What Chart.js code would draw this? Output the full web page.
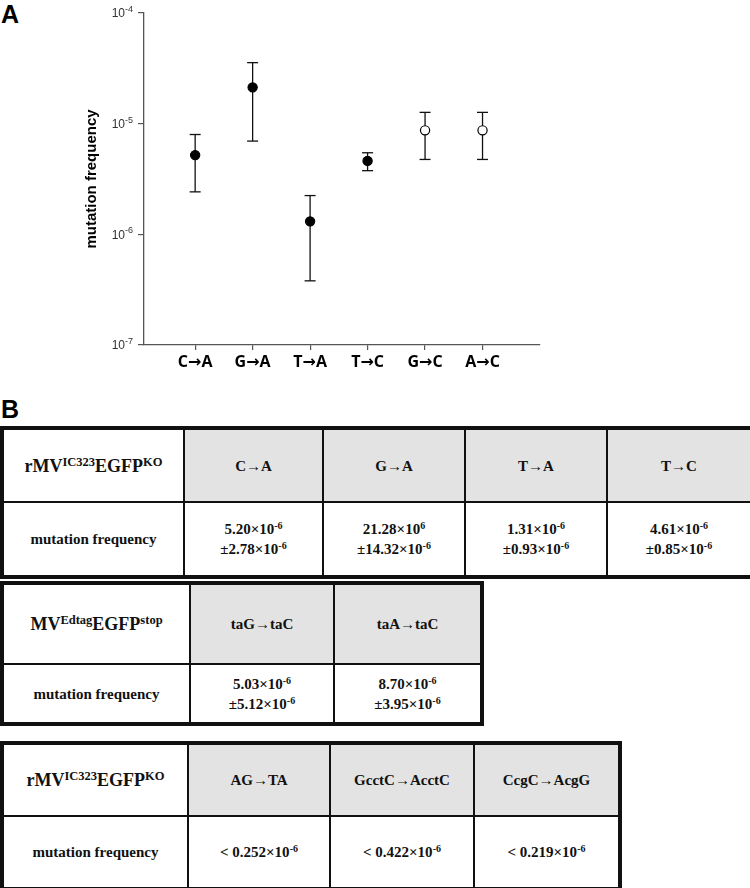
<!DOCTYPE html>
<html>
<head>
<meta charset="utf-8">
<script src="https://cdn.jsdelivr.net/npm/chart.js@4/dist/chart.umd.min.js"></script>
<style>
  html, body { margin:0; padding:0; background:#fff; }
  body { width:750px; height:888px; position:relative; overflow:hidden; }
  .panel { position:absolute; font-family:"Liberation Sans", Arial, sans-serif; font-weight:bold; font-size:25px; line-height:1; color:#000; }
  #chartBox { position:absolute; left:0; top:0; width:560px; height:385px; }
  table.tb { position:absolute; left:0; border-collapse:collapse; table-layout:fixed; border:4px solid #111;
             font-family:"Liberation Serif","Times New Roman",serif; font-weight:bold; font-size:15px; color:#111; }
  table.tb td { border:2px solid #111; text-align:center; vertical-align:middle; padding:0; line-height:20px; }
  table.tb td.g { background:#e3e3e3; }
  table.tb td.name { font-size:18px; }
  table.tb td.name sup { font-size:12.5px; vertical-align:6px; line-height:0; }
  table.tb td sup { font-size:10px; vertical-align:5px; line-height:0; }
</style>
</head>
<body>
<div class="panel" style="left:1px;top:2px;">A</div>
<div class="panel" style="left:1px;top:397px;">B</div>
<div id="chartBox"><canvas id="c"></canvas></div>

<table class="tb" id="t1" style="top:426px;width:750px;height:149px;"></table>
<table class="tb" id="t2" style="top:581px;width:480px;height:141px;"></table>
<table class="tb" id="t3" style="top:741px;width:618px;height:146px;"></table>

<script>
// ---- Panel A data ----
const categories = ['C→A', 'G→A', 'T→A', 'T→C', 'G→C', 'A→C'];
const meanFreq   = [5.20e-6, 21.28e-6, 1.31e-6, 4.61e-6, 8.70e-6, 8.70e-6];
const lowerBar   = [2.42e-6, 6.96e-6, 0.38e-6, 3.76e-6, 4.75e-6, 4.75e-6];
const upperBar   = [7.98e-6, 35.60e-6, 2.24e-6, 5.46e-6, 12.65e-6, 12.65e-6];
const filledMark = [true, true, true, true, false, false];
const yTickValues = [1e-7, 1e-6, 1e-5, 1e-4];
const yTickBase = ['10', '10', '10', '10'];
const yTickExp  = ['-7', '-6', '-5', '-4'];

// ---- Panel B table data ----
const t1Name = 'rMV<sup>IC323</sup>EGFP<sup>KO</sup>';
const t1Heads = ['C→A', 'G→A', 'T→A', 'T→C'];
const t1Vals = ['5.20×10<sup>-6</sup><br>±2.78×10<sup>-6</sup>', '21.28×10<sup>6</sup><br>±14.32×10<sup>-6</sup>',
                '1.31×10<sup>-6</sup><br>±0.93×10<sup>-6</sup>', '4.61×10<sup>-6</sup><br>±0.85×10<sup>-6</sup>'];
const t2Name = 'MV<sup>Edtag</sup>EGFP<sup>stop</sup>';
const t2Heads = ['taG→taC', 'taA→taC'];
const t2Vals = ['5.03×10<sup>-6</sup><br>±5.12×10<sup>-6</sup>', '8.70×10<sup>-6</sup><br>±3.95×10<sup>-6</sup>'];
const t3Name = 'rMV<sup>IC323</sup>EGFP<sup>KO</sup>';
const t3Heads = ['AG→TA', 'GcctC→AcctC', 'CcgC→AcgG'];
const t3Vals = ['&lt; 0.252×10<sup>-6</sup>', '&lt; 0.422×10<sup>-6</sup>', '&lt; 0.219×10<sup>-6</sup>'];
const rowLabel = 'mutation frequency';

function buildTable(id, name, heads, vals, colW, rowH) {
  const t = document.getElementById(id);
  let h = '<colgroup>' + colW.map(w => `<col style="width:${w}px">`).join('') + '</colgroup>';
  h += `<tr style="height:${rowH[0]}px"><td class="name">${name}</td>` + heads.map(x => `<td class="g">${x}</td>`).join('') + '</tr>';
  h += `<tr style="height:${rowH[1]}px"><td>${rowLabel}</td>` + vals.map(x => `<td>${x}</td>`).join('') + '</tr>';
  t.innerHTML = h;
}
buildTable('t1', t1Name, t1Heads, t1Vals, [182, 139, 142, 142, 145], [74, 75]);
buildTable('t2', t2Name, t2Heads, t2Vals, [188, 144, 148], [81, 60]);
buildTable('t3', t3Name, t3Heads, t3Vals, [186, 142, 144, 146], [73, 73]);

// ---- Chart ----
const datasets = [];
datasets.push({
  label: 'mean',
  data: categories.map((c, i) => ({ x: i + 1, y: meanFreq[i] })),
  pointRadius: 4.6,
  pointBorderWidth: 1.2,
  pointBackgroundColor: filledMark.map(f => f ? '#000' : '#fff'),
  pointBorderColor: '#000',
  showLine: false,
  order: 0
});
categories.forEach((c, i) => {
  datasets.push({
    label: 'err ' + c,
    data: [{ x: i + 1, y: lowerBar[i] }, { x: i + 1, y: upperBar[i] }],
    showLine: true,
    borderColor: '#111',
    borderWidth: 1.3,
    pointStyle: 'line',
    pointRadius: 5.5,
    pointBorderWidth: 1.3,
    pointBorderColor: '#111',
    order: 1
  });
});

// y tick labels with real superscripts, placed through the y scale
const supTicks = {
  id: 'supTicks',
  afterDraw(chart) {
    const ys = chart.scales.y;
    const ctx = chart.ctx;
    const right = ys.right - 6 - 5;
    ctx.save();
    ctx.fillStyle = '#333';
    ctx.textBaseline = 'alphabetic';
    ctx.textAlign = 'left';
    yTickValues.forEach((v, i) => {
      const py = ys.getPixelForValue(v);
      ctx.font = '9px "Liberation Sans", Arial, sans-serif';
      const ew = ctx.measureText(yTickExp[i]).width;
      ctx.font = '12px "Liberation Sans", Arial, sans-serif';
      const bw = ctx.measureText(yTickBase[i]).width;
      const x0 = right - ew - bw;
      ctx.fillText(yTickBase[i], x0, py + 4.3);
      ctx.font = '9px "Liberation Sans", Arial, sans-serif';
      ctx.fillText(yTickExp[i], x0 + bw, py - 1);
    });
    ctx.restore();
  }
};

new Chart(document.getElementById('c'), {
  type: 'scatter',
  data: { datasets },
  plugins: [supTicks],
  options: {
    responsive: true,
    maintainAspectRatio: false,
    animation: false,
    events: [],
    layout: { padding: { top: 13, right: 20, left: 0, bottom: 0 } },
    plugins: { legend: { display: false }, tooltip: { enabled: false } },
    scales: {
      x: {
        type: 'linear',
        min: 0.11,
        max: 7,
        afterBuildTicks: s => { s.ticks = categories.map((c, i) => ({ value: i + 1 })); },
        afterFit: s => { s.height = 40; },
        ticks: {
          callback: v => categories[v - 1],
          font: { family: '"Open Sans", "DejaVu Sans", sans-serif', size: 16, weight: 'bold' },
          color: '#000',
          padding: 3,
          maxRotation: 0,
          autoSkip: false
        },
        grid: { drawOnChartArea: false, drawTicks: true, tickLength: 5, color: '#555', lineWidth: 1.2 },
        border: { display: true, color: '#555', width: 1.3 }
      },
      y: {
        type: 'logarithmic',
        min: 1e-7,
        max: 1e-4,
        afterBuildTicks: s => { s.ticks = yTickValues.map(v => ({ value: v })); },
        afterFit: s => { s.width = 144; },
        ticks: { display: false, autoSkip: false },
        grid: { drawOnChartArea: false, drawTicks: true, tickLength: 6, color: '#555', lineWidth: 1.2 },
        border: { display: true, color: '#555', width: 1.3 },
        title: {
          display: true,
          text: 'mutation frequency',
          font: { family: '"Liberation Sans", Arial, sans-serif', size: 15, weight: 'bold' },
          color: '#000',
          padding: { top: 83, bottom: 0 }
        }
      }
    }
  }
});
</script>
</body>
</html>
